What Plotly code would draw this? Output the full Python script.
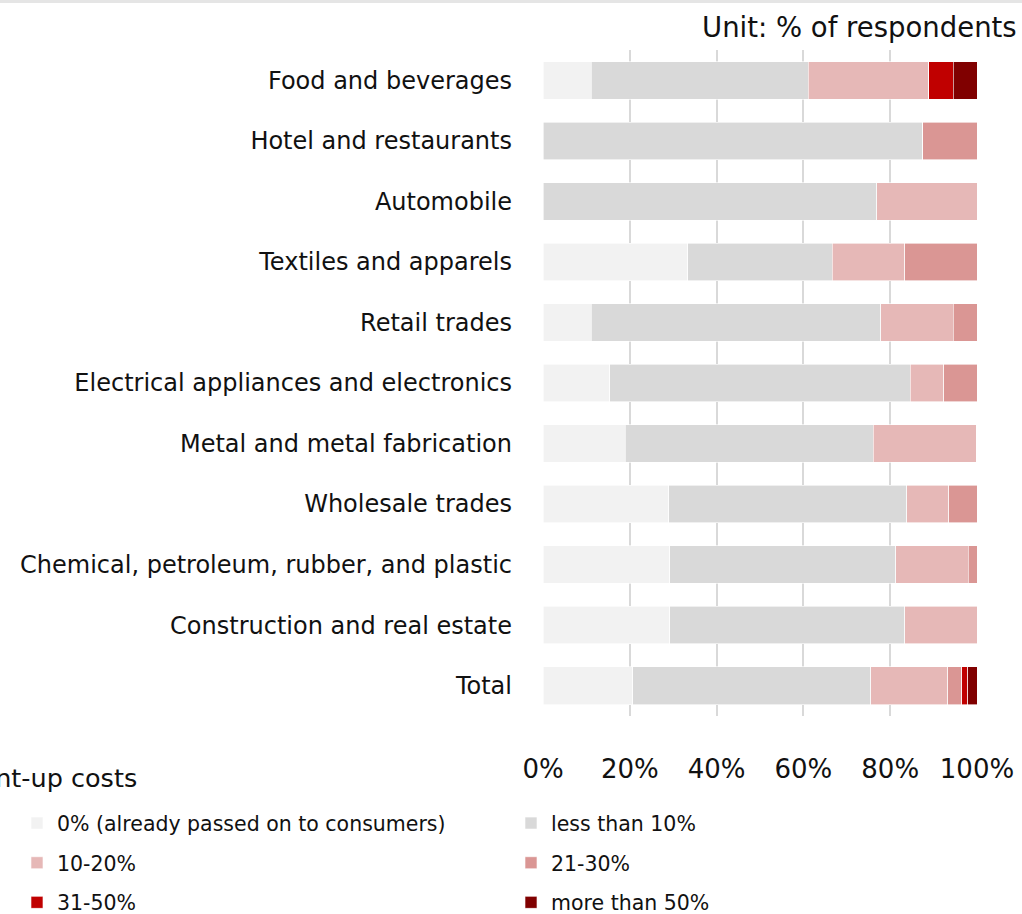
import plotly.graph_objects as go

categories = [
    "Food and beverages",
    "Hotel and restaurants",
    "Automobile",
    "Textiles and apparels",
    "Retail trades",
    "Electrical appliances and electronics",
    "Metal and metal fabrication",
    "Wholesale trades",
    "Chemical, petroleum, rubber, and plastic",
    "Construction and real estate",
    "Total",
]

series_names = [
    "0% (already passed on to consumers)",
    "less than 10%",
    "10-20%",
    "21-30%",
    "31-50%",
    "more than 50%",
]

pct_0 = [11.1, 0.0, 0.0, 33.3, 11.1, 15.4, 19.0, 29.0, 29.2, 29.2, 20.7]
pct_lt10 = [50.0, 87.5, 76.9, 33.3, 66.7, 69.2, 57.1, 54.8, 52.1, 54.2, 54.8]
pct_10_20 = [27.8, 0.0, 23.1, 16.7, 16.7, 7.7, 23.8, 9.7, 16.7, 16.7, 17.8]
pct_21_30 = [0.0, 12.5, 0.0, 16.7, 5.6, 7.7, 0.0, 6.5, 2.1, 0.0, 3.2]
pct_31_50 = [5.6, 0.0, 0.0, 0.0, 0.0, 0.0, 0.0, 0.0, 0.0, 0.0, 1.4]
pct_gt50 = [5.6, 0.0, 0.0, 0.0, 0.0, 0.0, 0.0, 0.0, 0.0, 0.0, 2.1]

series_values = [pct_0, pct_lt10, pct_10_20, pct_21_30, pct_31_50, pct_gt50]
colors = ["#f2f2f2", "#d9d9d9", "#e6b8b7", "#da9694", "#c00000", "#800000"]
legend_ids = ["legend", "legend2", "legend", "legend2", "legend", "legend2"]

tick_vals = [0, 20, 40, 60, 80, 100]
tick_text = ["0%", "20%", "40%", "60%", "80%", "100%"]

FONT = "DejaVu Sans"
TXT = "#111111"

fig = go.Figure()
for name, vals, col, lg in zip(series_names, series_values, colors, legend_ids):
    fig.add_trace(go.Bar(
        y=categories, x=vals, name=name, orientation="h",
        marker=dict(color=col, line=dict(color="#ffffff", width=0.6)),
        width=0.62, legend=lg, legendgroup=name,
        hovertemplate="%{y}: %{x:.1f}%<extra>" + name + "</extra>",
    ))

legend_common = dict(
    xanchor="left", y=-0.131, yanchor="top",
    orientation="v", tracegroupgap=10, traceorder="grouped",
    font=dict(size=20.5, family=FONT, color=TXT),
    bgcolor="rgba(0,0,0,0)",
)

fig.update_layout(
    barmode="stack",
    width=1022, height=914,
    margin=dict(l=543, r=45, t=50, b=198, autoexpand=False),
    paper_bgcolor="white", plot_bgcolor="white",
    font=dict(family=FONT, color=TXT),
    xaxis=dict(
        range=[0, 100], tickvals=tick_vals, ticktext=tick_text,
        showgrid=True, gridcolor="#d9d9d9", gridwidth=2,
        zeroline=False, showline=False,
        tickfont=dict(size=26, family=FONT, color=TXT),
        ticklabelstandoff=35, fixedrange=True,
    ),
    yaxis=dict(
        autorange="reversed", showgrid=False, zeroline=False, showline=False,
        tickfont=dict(size=24, family=FONT, color=TXT),
        ticklabelstandoff=30, fixedrange=True,
    ),
    legend=dict(x=-1.212, **legend_common),
    legend2=dict(x=-0.0737, **legend_common),
    showlegend=True,
)

fig.add_annotation(
    text="Unit: % of respondents", xref="paper", yref="paper",
    x=1.097, y=1.0345, xanchor="right", yanchor="middle",
    showarrow=False, font=dict(size=27.5, family=FONT, color=TXT),
)
fig.add_annotation(
    text="Pent-up costs", xref="paper", yref="paper",
    x=-0.93, y=-0.093, xanchor="right", yanchor="middle",
    showarrow=False, font=dict(size=25.5, family=FONT, color=TXT),
)
fig.add_shape(
    type="rect", xref="paper", yref="paper",
    x0=-1.3, x1=1.2, y0=1.0706, y1=1.08,
    line=dict(width=0), fillcolor="#e5e5e5", layer="above",
)

fig.write_html("out.html")
